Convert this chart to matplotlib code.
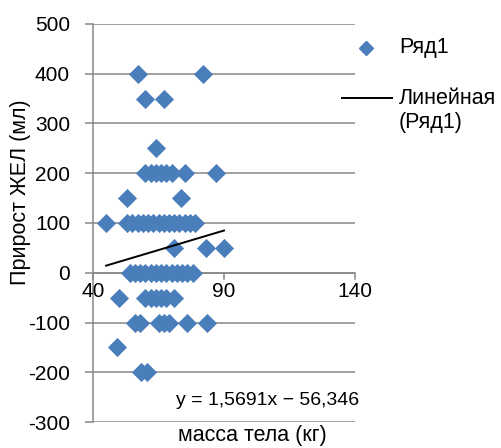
import numpy as np
import matplotlib
matplotlib.use('Agg')
import matplotlib.pyplot as plt
from matplotlib.lines import Line2D

plt.rcParams['font.family'] = ['Liberation Sans', 'DejaVu Sans']
plt.rcParams['axes.unicode_minus'] = False

# body mass (kg) and VC gain (ml)
mass = [57, 82,
        60, 67,
        64,
        60, 62, 64, 66, 68, 70, 75, 87,
        53, 73.5,
        45, 53, 55, 57, 59, 61, 63, 65, 67, 69, 71, 73, 75, 77, 79,
        71, 83, 90,
        54, 56, 58, 60, 62, 64, 66, 68, 70, 72, 74, 76, 78,
        50, 60, 62, 64, 66, 68, 71,
        56, 58, 65, 67, 69, 76, 83.5,
        49,
        58.5, 60.5]
gain = [400, 400,
        350, 350,
        250,
        200, 200, 200, 200, 200, 200, 200, 200,
        150, 150,
        100, 100, 100, 100, 100, 100, 100, 100, 100, 100, 100, 100, 100, 100, 100,
        50, 50, 50,
        0, 0, 0, 0, 0, 0, 0, 0, 0, 0, 0, 0, 0,
        -50, -50, -50, -50, -50, -50, -50,
        -100, -100, -100, -100, -100, -100, -100,
        -150,
        -200, -200]

slope = 1.5691
intercept = -56.346
y_ticks = [-300, -200, -100, 0, 100, 200, 300, 400, 500]
x_ticks = [40, 90, 140]

blue = '#4a7ebb'
grid = '#878787'
fs = 15      # tick labels
fs_txt = 15.5  # axis titles, legend

fig = plt.figure(figsize=(5.02, 4.48), dpi=100)
ax = fig.add_axes([93/502, 1 - 422/448, (355 - 93)/502, (422 - 24)/448])

ax.set_xlim(40, 140)
ax.set_ylim(-300, 500)
ax.set_yticks(y_ticks)
ax.set_xticks(x_ticks)
ax.yaxis.grid(True, color=grid, linewidth=1.1)
ax.set_axisbelow(True)

for s in ['top', 'right', 'bottom']:
    ax.spines[s].set_visible(False)
ax.spines['left'].set_color(grid)
ax.spines['left'].set_linewidth(1.1)
ax.axhline(0, color=grid, linewidth=1.1, zorder=1)

ax.tick_params(axis='y', direction='out', length=5.5, color=grid, width=1.1,
               labelsize=fs, pad=11)
ax.tick_params(axis='x', length=0, labelsize=fs, pad=0)
ax.set_xticklabels([])
# x axis crosses at y = 0, labels sit below it
for xv in x_ticks:
    ax.plot([xv, xv], [0, -12], color=grid, linewidth=1.1, clip_on=False, zorder=1)
    ax.text(xv, -38, str(xv), ha='center', va='center', fontsize=fs)

ax.scatter(mass, gain, marker='D', s=95, color=blue, linewidths=0, zorder=3)

xs = np.array([min(mass), max(mass)])
ax.plot(xs, slope * xs + intercept, color='black', linewidth=1.4, zorder=4)

fig.text(268/502, 1 - 400/448, 'y = 1,5691x \u2212 56,346', ha='center',
         va='center', fontsize=14)
fig.text(252/502, 1 - 435/448, 'масса тела (кг)', ha='center', va='center',
         fontsize=fs_txt)
fig.text(21/502, 1 - 192/448, 'Прирост ЖЕЛ (мл)', rotation=90, ha='center',
         va='center', fontsize=fs_txt)

# legend drawn by hand to match Excel placement
fig.add_artist(Line2D([366/502], [1 - 48/448], marker='D', markersize=7,
                      color=blue, linestyle='none', transform=fig.transFigure))
fig.text(399/502, 1 - 48/448, 'Ряд1', va='center', fontsize=fs_txt)
fig.add_artist(Line2D([342/502, 392/502], [1 - 98/448, 1 - 98/448],
                      color='black', linewidth=1.4, transform=fig.transFigure))
fig.text(399/502, 1 - 98/448, 'Линейная', va='center', fontsize=fs_txt)
fig.text(399/502, 1 - 122/448, '(Ряд1)', va='center', fontsize=fs_txt)

fig.savefig('out.png', dpi=100)
